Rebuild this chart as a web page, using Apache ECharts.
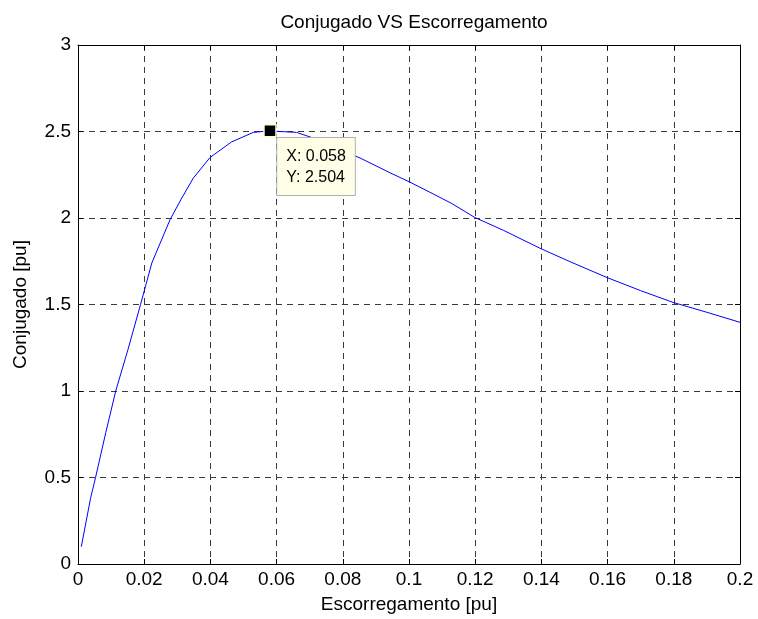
<!DOCTYPE html>
<html>
<head>
<meta charset="utf-8">
<script src="https://cdn.jsdelivr.net/npm/echarts@6/dist/echarts.min.js"></script>
<style>
  html, body { margin: 0; padding: 0; background: #fff; }
  #chart { width: 758px; height: 619px; }
</style>
</head>
<body>
<div id="chart"></div>
<script>
// escorregamento (slip) and conjugado (torque)
var slip = [0.001, 0.0038, 0.0053, 0.0084, 0.0114, 0.0151, 0.0189, 0.0223, 0.0278, 0.0312,
            0.0348, 0.0399, 0.0464, 0.053, 0.058, 0.061, 0.066, 0.0711, 0.0785, 0.0852,
            0.0943, 0.1001, 0.1063, 0.1129, 0.1199, 0.1285, 0.1396, 0.1486, 0.1598, 0.17,
            0.1798, 0.19, 0.2];
var torque = [0.10, 0.38, 0.50, 0.76, 1.00, 1.24, 1.50, 1.74, 1.99, 2.11,
              2.23, 2.35, 2.44, 2.495, 2.504, 2.50, 2.495, 2.462, 2.40, 2.347,
              2.261, 2.209, 2.149, 2.084, 2.003, 1.929, 1.825, 1.748, 1.656, 1.58,
              1.512, 1.455, 1.397];
var tipX = 0.058;
var tipY = 2.504;

var curve = slip.map(function (s, i) { return [s, torque[i]]; });

var font = 'Liberation Sans, Arial, sans-serif';
var gridLine = { show: true, lineStyle: { color: '#3a3a3a', type: [6, 5], width: 1 } };

var myChart = echarts.init(document.getElementById('chart'));
var option = {
  animation: false,
  backgroundColor: '#fff',
  title: {
    text: 'Conjugado VS Escorregamento',
    left: 409, top: 8, textAlign: 'center',
    textStyle: { fontFamily: font, fontSize: 19, fontWeight: 'normal', color: '#000' }
  },
  grid: { left: 78, right: 18, top: 45, bottom: 53 },
  xAxis: [
    {
      type: 'value', min: 0, max: 0.2, interval: 0.02,
      name: 'Escorregamento [pu]', nameLocation: 'middle', nameGap: 31,
      nameTextStyle: { fontFamily: font, fontSize: 19, color: '#000' },
      axisLine: { onZero: false, lineStyle: { color: '#000', width: 1 } },
      axisTick: { inside: true, length: 5, lineStyle: { color: '#000' } },
      axisLabel: { fontFamily: font, fontSize: 19, color: '#000', margin: 6,
        formatter: function (v) { return +v.toFixed(2) + ''; } },
      splitLine: gridLine
    },
    {
      type: 'value', position: 'top', min: 0, max: 0.2, interval: 0.02,
      axisLine: { onZero: false, lineStyle: { color: '#000', width: 1 } },
      axisTick: { inside: true, length: 5, lineStyle: { color: '#000' } },
      axisLabel: { show: false }, splitLine: { show: false }
    }
  ],
  yAxis: [
    {
      type: 'value', min: 0, max: 3, interval: 0.5,
      name: 'Conjugado [pu]', nameLocation: 'middle', nameGap: 48,
      nameTextStyle: { fontFamily: font, fontSize: 19, color: '#000' },
      axisLine: { show: true, onZero: false, lineStyle: { color: '#000', width: 1 } },
      axisTick: { show: true, inside: true, length: 5, lineStyle: { color: '#000' } },
      axisLabel: { fontFamily: font, fontSize: 19, color: '#000', margin: 7 },
      splitLine: gridLine
    },
    {
      type: 'value', position: 'right', min: 0, max: 3, interval: 0.5,
      axisLine: { show: true, onZero: false, lineStyle: { color: '#000', width: 1 } },
      axisTick: { show: true, inside: true, length: 5, lineStyle: { color: '#000' } },
      axisLabel: { show: false }, splitLine: { show: false }
    }
  ],
  series: [
    {
      type: 'line',
      data: curve,
      showSymbol: false,
      lineStyle: { color: '#0000ff', width: 1 },
      z: 3
    },
    {
      type: 'scatter',
      data: [[tipX, tipY]],
      symbol: 'rect',
      symbolSize: 12,
      itemStyle: { color: '#000', borderColor: '#ffffc8', borderWidth: 1.5, opacity: 1 },
      emphasis: { disabled: true },
      label: {
        show: true,
        position: [14, 14],
        formatter: 'X: ' + tipX + '\nY: ' + tipY,
        fontFamily: font, fontSize: 16, color: '#000',
        lineHeight: 21,
        backgroundColor: '#ffffe8',
        borderColor: '#b0b0b0', borderWidth: 1,
        padding: [8, 9, 7, 9]
      },
      z: 5
    }
  ]
};
myChart.setOption(option);
</script>
</body>
</html>
